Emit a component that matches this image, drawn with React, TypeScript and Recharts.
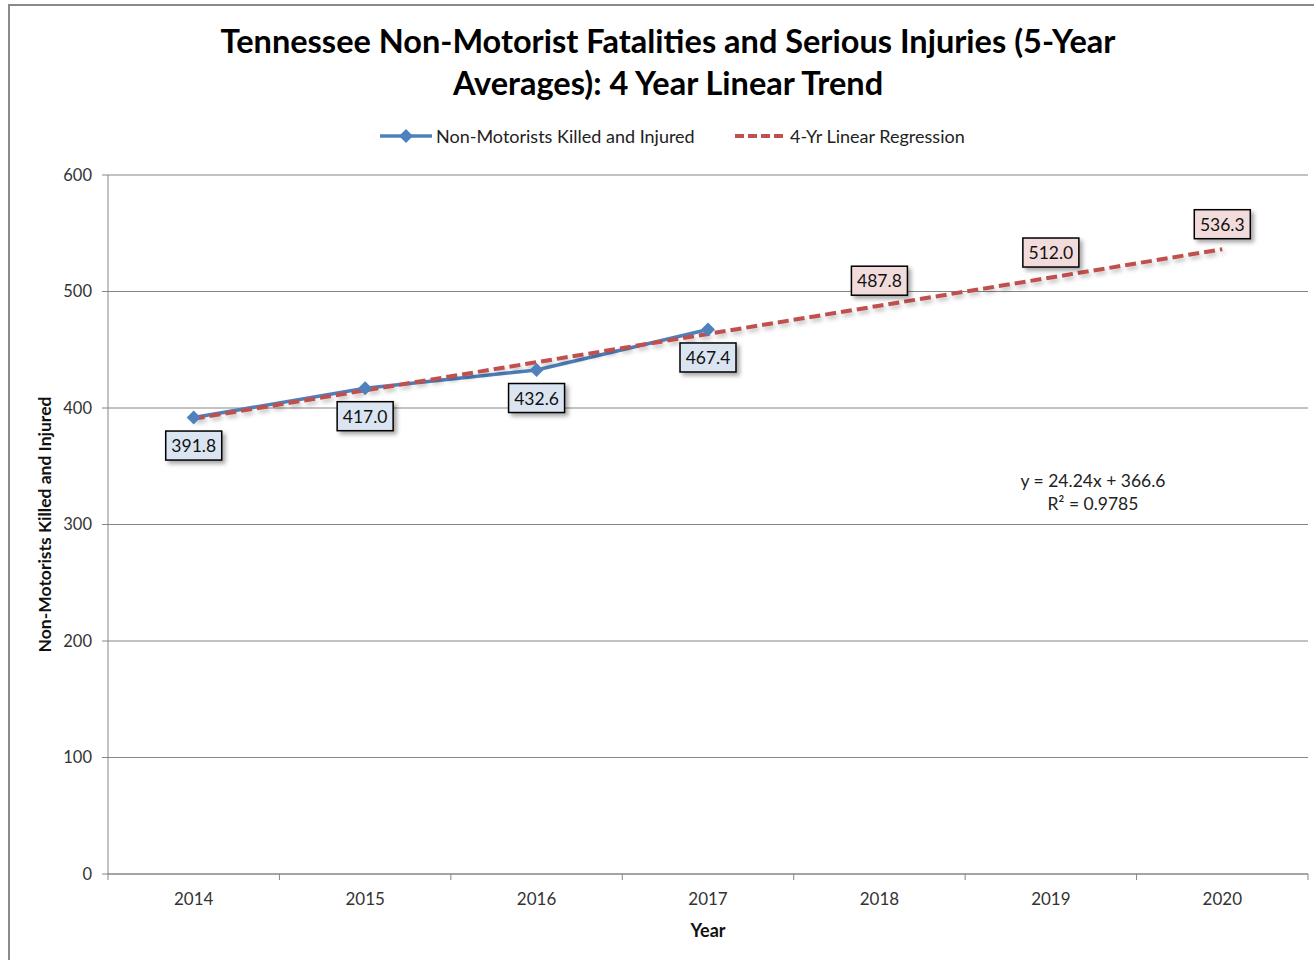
import React from 'react';
import { LineChart, Line, XAxis, YAxis, CartesianGrid, LabelList, Label } from 'recharts';

// 5-year averages, with the 4-year linear fit projected out to 2020
const years = [2014, 2015, 2016, 2017, 2018, 2019, 2020];
const killedInjured = [391.8, 417.0, 432.6, 467.4, null, null, null];
const regression = [390.8, 415.1, 439.3, 463.6, 487.8, 512.0, 536.3];
const yTicks = [0, 100, 200, 300, 400, 500, 600];
const bandEdges = [2013.5, 2014.5, 2015.5, 2016.5, 2017.5, 2018.5, 2019.5, 2020.5];
const equationLines = ['y = 24.24x + 366.6', 'R² = 0.9785'];

const data = years.map((year, i) => ({
  year,
  actual: killedInjured[i],
  trend: regression[i],
}));

const FONT = 'Lato, "Open Sans", sans-serif';
const BLUE = '#4f81bd';
const RED = '#c0504d';
const GRID = '#868686';

const Diamond = (props: any) => {
  const { cx, cy, index } = props;
  if (cx == null || cy == null || Number.isNaN(cy)) return <g key={index} />;
  const r = 7;
  return (
    <path
      key={index}
      d={`M${cx},${cy - r}L${cx + r},${cy}L${cx},${cy + r}L${cx - r},${cy}Z`}
      fill={BLUE}
    />
  );
};

// boxed value label, drawn below (dy > 0) or above (dy < 0) the point
const boxLabel = (fill: string, dy: number, fromIndex: number) => (props: any) => {
  const { x, y, value, index } = props;
  if (value == null || index < fromIndex) return null;
  const w = 56;
  const h = 29;
  const cx = x;
  const cy = y + dy;
  return (
    <g>
      <rect
        x={cx - w / 2}
        y={cy - h / 2}
        width={w}
        height={h}
        fill={fill}
        stroke="#000"
        strokeWidth={1.5}
        style={{ filter: 'drop-shadow(3px 3px 2px rgba(0,0,0,0.35))' }}
      />
      <text
        x={cx}
        y={cy}
        textAnchor="middle"
        dominantBaseline="central"
        fontFamily={FONT}
        fontSize={17.5}
        fill="#111"
      >
        {Number(value).toFixed(1)}
      </text>
    </g>
  );
};

const Legend = () => (
  <svg width={1314} height={30} style={{ position: 'absolute', left: 0, top: 121 }}>
    <line x1={380} y1={15} x2={432} y2={15} stroke={BLUE} strokeWidth={3.5} />
    <path d="M406,8L413,15L406,22L399,15Z" fill={BLUE} />
    <text x={436} y={15} dominantBaseline="central" fontFamily={FONT} fontSize={18} fill="#222">
      Non-Motorists Killed and Injured
    </text>
    <line x1={735} y1={15} x2={787} y2={15} stroke={RED} strokeWidth={4} strokeDasharray="9 4" />
    <text x={790} y={15} dominantBaseline="central" fontFamily={FONT} fontSize={18} fill="#222">
      4-Yr Linear Regression
    </text>
  </svg>
);

const NoTick = () => <g />;

export default function App() {
  return (
    <div
      style={{
        position: 'fixed',
        left: 0,
        top: 0,
        width: 1314,
        height: 960,
        overflow: 'hidden',
        background: '#fff',
        fontFamily: FONT,
      }}
    >
      <div
        style={{
          position: 'absolute',
          left: 8,
          top: 4,
          width: 1340,
          height: 1000,
          border: '2px solid #8a8a8a',
          boxSizing: 'border-box',
        }}
      />
      <div
        style={{
          position: 'absolute',
          left: 0,
          top: 20,
          width: 1336,
          textAlign: 'center',
          fontSize: 32.5,
          fontWeight: 700,
          lineHeight: '42px',
          color: '#000',
        }}
      >
        Tennessee Non-Motorist Fatalities and Serious Injuries (5-Year
        <br />
        Averages): 4 Year Linear Trend
      </div>
      <Legend />
      <div style={{ position: 'absolute', left: 0, top: 0 }}>
        <LineChart width={1314} height={960} data={data} margin={{ top: 175, right: 6, left: 0, bottom: 0 }}>
          <CartesianGrid vertical={false} stroke={GRID} strokeWidth={1} xAxisId="b" />
          <XAxis
            xAxisId="b"
            type="number"
            dataKey="year"
            domain={[2013.5, 2020.5]}
            ticks={years}
            height={85}
            tickSize={6}
            tickMargin={12}
            tickLine={false}
            axisLine={false}
            tick={{ fontSize: 17, fill: '#333', fontFamily: FONT }}
          >
            <Label
              value="Year"
              position="insideBottom"
              offset={23}
              style={{ fontSize: 18, fontWeight: 700, fill: '#111', fontFamily: FONT }}
            />
          </XAxis>
          {/* thin axis carrying the tick marks between the year bands */}
          <XAxis
            xAxisId="a"
            type="number"
            dataKey="year"
            domain={[2013.5, 2020.5]}
            ticks={bandEdges}
            height={1}
            tick={<NoTick />}
            tickSize={6}
            tickLine={{ stroke: GRID }}
            axisLine={{ stroke: GRID }}
          />
          <YAxis
            domain={[0, 600]}
            ticks={yTicks}
            width={108}
            tickSize={6}
            tickMargin={10}
            tickLine={{ stroke: GRID }}
            axisLine={{ stroke: GRID }}
            tick={{ fontSize: 16.5, fill: '#333', fontFamily: FONT }}
          >
            <Label
              value="Non-Motorists Killed and Injured"
              angle={-90}
              position="insideLeft"
              offset={45}
              style={{ textAnchor: 'middle', fontSize: 17.5, fontWeight: 700, fill: '#111', fontFamily: FONT }}
            />
          </YAxis>
          <Line
            xAxisId="b"
            dataKey="actual"
            stroke={BLUE}
            strokeWidth={3.5}
            dot={<Diamond />}
            activeDot={false}
            connectNulls={false}
            isAnimationActive={false}
          >
            <LabelList dataKey="actual" content={boxLabel('#dbe5f1', 28, 0)} />
          </Line>
          <Line
            xAxisId="b"
            dataKey="trend"
            stroke={RED}
            strokeWidth={4}
            strokeDasharray="11 5"
            dot={false}
            activeDot={false}
            isAnimationActive={false}
            style={{ filter: 'drop-shadow(2px 3px 2px rgba(0,0,0,0.25))' }}
          >
            <LabelList dataKey="trend" content={boxLabel('#f2dcdb', -25, 4)} />
          </Line>
        </LineChart>
      </div>
      <div
        style={{
          position: 'absolute',
          left: 993,
          top: 469,
          width: 200,
          textAlign: 'center',
          fontSize: 17.5,
          lineHeight: '23px',
          color: '#222',
        }}
      >
        {equationLines.map((t) => (
          <div key={t}>{t}</div>
        ))}
      </div>
    </div>
  );
}
